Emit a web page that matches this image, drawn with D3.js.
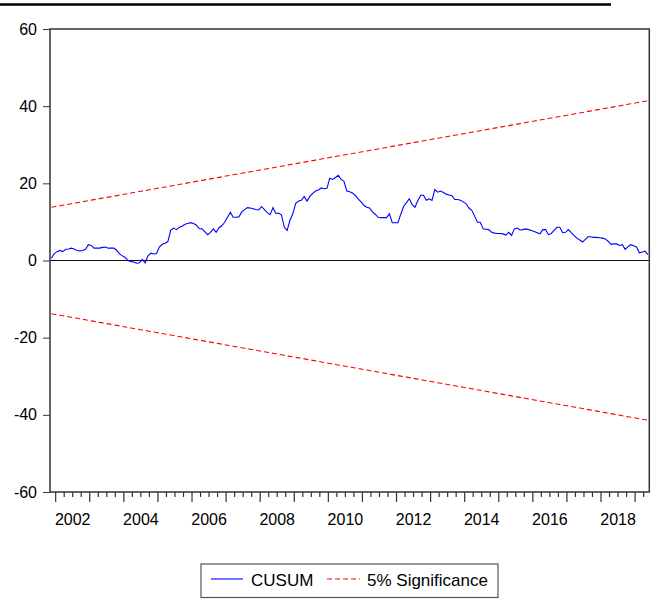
<!DOCTYPE html>
<html>
<head>
<meta charset="utf-8">
<script src="https://cdn.jsdelivr.net/npm/d3@7"></script>
<style>
  body { margin: 0; background: #fff; }
  svg text { font-family: "Liberation Sans", Arial, sans-serif; fill: #000; }
</style>
</head>
<body>
<div id="chart"></div>
<script>
// monthly CUSUM, 2001M11 .. 2019M05
const startYear = 2001, startMonth = 10; // 0-based month -> November
const cusum = [
  0.6, 1.8, 2.3, 2.6, 2.3, 2.9, 3.0, 3.2, 3.0, 2.6, 2.5, 2.6,
  2.9, 4.1, 3.9, 3.2, 3.2, 3.2, 3.4, 3.5, 3.2, 3.2, 3.2, 2.6,
  1.7, 1.2, 0.8, 0.0, -0.3, -0.4, -0.7, -0.6, 0.3, -0.6, 1.2, 1.9,
  1.7, 1.8, 3.5, 4.2, 4.5, 4.9, 7.8, 8.4, 8.0, 8.6, 8.9, 9.4,
  9.6, 9.8, 9.6, 9.2, 8.3, 8.2, 7.5, 6.7, 7.3, 8.2, 7.3, 8.5,
  9.0, 9.9, 11.2, 12.5, 11.2, 11.2, 11.3, 12.6, 13.2, 13.7, 13.6, 13.4,
  13.2, 13.1, 14.0, 13.2, 12.4, 11.9, 13.7, 12.2, 12.3, 11.8, 8.6, 7.8,
  10.5, 12.1, 14.8, 15.4, 15.6, 16.6, 15.4, 16.6, 17.4, 18.0, 18.3, 18.8,
  18.6, 18.7, 21.3, 21.0, 21.5, 22.1, 21.0, 20.5, 18.0, 17.8, 17.5, 16.9,
  16.0, 15.2, 14.3, 13.8, 13.6, 12.6, 12.0, 11.2, 11.1, 11.1, 11.1, 12.1,
  9.8, 9.8, 9.8, 12.0, 14.0, 15.0, 16.0, 14.5, 13.8, 15.5, 16.9, 16.9,
  15.6, 16.0, 15.6, 18.4, 17.7, 18.0, 17.6, 17.2, 17.0, 16.8, 15.8, 15.8,
  15.6, 15.2, 14.7, 13.6, 13.0, 11.5, 9.9, 9.9, 8.2, 8.1, 8.0, 7.3,
  7.1, 7.0, 7.0, 6.9, 6.6, 7.3, 6.5, 8.2, 8.4, 7.9, 8.0, 8.2,
  8.0, 7.8, 7.5, 7.2, 6.9, 8.0, 8.0, 6.7, 7.0, 7.8, 8.6, 8.6,
  7.2, 7.3, 8.0, 7.2, 6.5, 5.8, 5.3, 4.8, 5.5, 6.2, 6.1, 6.0,
  6.0, 5.9, 5.8, 5.6, 5.0, 4.2, 4.3, 4.3, 3.9, 4.1, 2.9, 3.6,
  4.1, 3.8, 3.5, 2.0, 2.2, 2.4, 1.5
];
// 5% significance bounds at first and last observation (linear in between)
const boundStart = 13.8;
const boundEnd = 41.4;
const yTicks = [60, 40, 20, 0, -20, -40, -60];
const yearLabels = [2002, 2004, 2006, 2008, 2010, 2012, 2014, 2016, 2018];
const legendItems = ["CUSUM", "5% Significance"];

const W = 654, H = 615;
const plotL = 50, plotR = 649.3, plotT = 29, plotB = 492;

const svg = d3.select("#chart").append("svg")
  .attr("width", W).attr("height", H);

const n = cusum.length;
const t0 = startYear + startMonth / 12;
const t1 = t0 + n / 12;
const x = d3.scaleLinear().domain([t0, t1]).range([plotL, plotR]);
const y = d3.scaleLinear().domain([-60, 60]).range([plotB, plotT]);
const tOf = i => t0 + (i + 0.5) / 12;

// stray rule at the very top
svg.append("line")
  .attr("x1", 0).attr("x2", 611).attr("y1", 4.5).attr("y2", 4.5)
  .attr("stroke", "#000").attr("stroke-width", 2.5);

// y axis ticks + labels (plain hyphen for negatives)
svg.append("g")
  .attr("transform", "translate(" + plotL + ",0)")
  .call(d3.axisLeft(y).tickValues(yTicks).tickSize(7).tickPadding(6)
    .tickFormat(d => String(d)))
  .call(g => g.select(".domain").remove())
  .call(g => g.selectAll("line").attr("stroke", "#333"))
  .call(g => g.selectAll("text").attr("font-size", 16)
    .attr("font-family", "Liberation Sans, Arial, sans-serif")
    .attr("fill", "#000"));

// x axis: quarter ticks short, year ticks long
const quarters = d3.range(Math.ceil(t0 * 4), Math.floor(t1 * 4) + 1).map(q => q / 4);
svg.append("g").selectAll("line")
  .data(quarters)
  .enter().append("line")
  .attr("x1", d => x(d)).attr("x2", d => x(d))
  .attr("y1", plotB)
  .attr("y2", d => plotB + (Number.isInteger(d) ? 10 : 5))
  .attr("stroke", "#333").attr("stroke-width", 1.2);

svg.append("g").selectAll("text")
  .data(yearLabels)
  .enter().append("text")
  .attr("x", d => x(d + 0.5))
  .attr("y", 525)
  .attr("text-anchor", "middle")
  .attr("font-size", 16)
  .text(d => d);

// zero line
svg.append("line")
  .attr("x1", plotL).attr("x2", plotR)
  .attr("y1", y(0)).attr("y2", y(0))
  .attr("stroke", "#111").attr("stroke-width", 1.2);

// significance bounds
const bound = i => boundStart + (boundEnd - boundStart) * i / (n - 1);
const upper = cusum.map((_, i) => [tOf(i), bound(i)]);
const lower = cusum.map((_, i) => [tOf(i), -bound(i)]);
const line = d3.line().x(d => x(d[0])).y(d => y(d[1]));

[upper, lower].forEach(b => {
  svg.append("path")
    .datum(b)
    .attr("d", line)
    .attr("fill", "none")
    .attr("stroke", "#ff0000")
    .attr("stroke-width", 1.1)
    .attr("stroke-dasharray", "5,3");
});

// CUSUM
svg.append("path")
  .datum(cusum.map((v, i) => [tOf(i), v]))
  .attr("d", line)
  .attr("fill", "none")
  .attr("stroke", "#0000ff")
  .attr("stroke-width", 1.1);

// frame
svg.append("rect")
  .attr("x", plotL).attr("y", plotT)
  .attr("width", plotR - plotL).attr("height", plotB - plotT)
  .attr("fill", "none").attr("stroke", "#333").attr("stroke-width", 1.5);

// legend
const lg = svg.append("g");
lg.append("rect")
  .attr("x", 201).attr("y", 564).attr("width", 297).attr("height", 33.5)
  .attr("fill", "#fff").attr("stroke", "#555").attr("stroke-width", 1.2);
lg.append("line")
  .attr("x1", 211).attr("x2", 243).attr("y1", 579).attr("y2", 579)
  .attr("stroke", "#0000ff").attr("stroke-width", 1.1);
lg.append("text")
  .attr("x", 251).attr("y", 586).attr("font-size", 17)
  .text(legendItems[0]);
lg.append("line")
  .attr("x1", 327).attr("x2", 360).attr("y1", 579).attr("y2", 579)
  .attr("stroke", "#ff0000").attr("stroke-width", 1.1)
  .attr("stroke-dasharray", "5,3");
lg.append("text")
  .attr("x", 367).attr("y", 586).attr("font-size", 17)
  .text(legendItems[1]);
</script>
</body>
</html>
